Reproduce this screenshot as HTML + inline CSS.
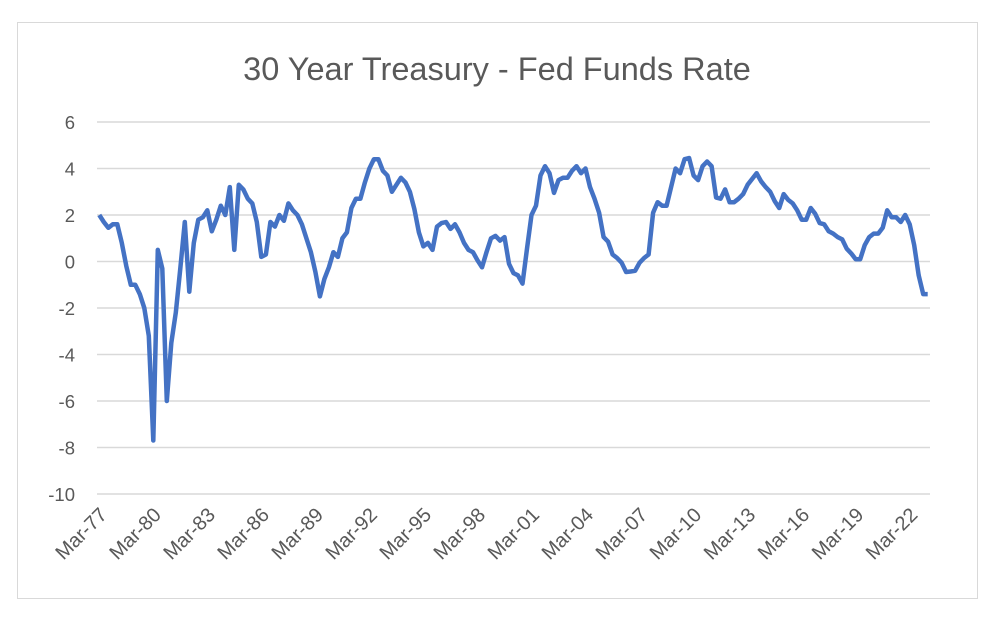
<!DOCTYPE html>
<html><head><meta charset="utf-8"><style>
body{margin:0;background:#fff;}
svg{display:block;font-family:"Liberation Sans",Calibri,sans-serif;}
</style></head><body>
<svg id="chart" width="1000" height="626">
<rect x="17.5" y="22.5" width="960" height="576" fill="#fff" stroke="#d9d9d9"/>
<text x="497" y="80" text-anchor="middle" font-size="32.5" fill="#595959">30 Year Treasury - Fed Funds Rate</text>
<g id="grid"></g><g id="ylabels"></g><g id="xlabels"></g><g id="series"></g>
</svg>
<script>
const values=[2.0,1.7,1.45,1.6,1.6,0.8,-0.2,-1.0,-1.0,-1.4,-2.0,-3.2,-7.7,0.5,-0.3,-6.0,-3.5,-2.2,-0.3,1.7,
-1.3,0.8,1.8,1.9,2.2,1.3,1.8,2.4,2.0,3.2,0.5,3.3,3.1,2.7,2.5,1.7,0.2,0.3,1.7,1.5,
2.0,1.75,2.5,2.2,2.0,1.6,1.0,0.4,-0.45,-1.5,-0.75,-0.25,0.4,0.2,1.0,1.25,2.3,2.7,2.7,3.4,
4.0,4.4,4.4,3.9,3.7,3.0,3.3,3.6,3.4,3.0,2.25,1.25,0.65,0.8,0.5,1.5,1.65,1.7,1.4,1.6,
1.25,0.8,0.5,0.4,0.05,-0.25,0.4,1.0,1.1,0.9,1.05,-0.1,-0.5,-0.6,-0.95,0.55,2.0,2.4,3.7,4.1,
3.8,2.95,3.5,3.6,3.6,3.9,4.1,3.8,4.0,3.2,2.7,2.1,1.05,0.85,0.3,0.15,-0.05,-0.45,-0.43,-0.4,
-0.05,0.15,0.3,2.1,2.55,2.4,2.4,3.2,4.0,3.8,4.4,4.45,3.7,3.5,4.1,4.3,4.1,2.75,2.7,3.1,
2.55,2.55,2.7,2.9,3.3,3.55,3.8,3.45,3.2,3.0,2.6,2.3,2.9,2.65,2.5,2.2,1.8,1.8,2.3,2.05,
1.65,1.6,1.3,1.2,1.05,0.95,0.55,0.35,0.1,0.1,0.7,1.05,1.2,1.2,1.45,2.2,1.9,1.9,1.7,2.0,
1.6,0.7,-0.6,-1.4,-1.4];
const yTicks=[6,4,2,0,-2,-4,-6,-8,-10];
const xTickLabels=["Mar-77","Mar-80","Mar-83","Mar-86","Mar-89","Mar-92","Mar-95","Mar-98","Mar-01","Mar-04","Mar-07","Mar-10","Mar-13","Mar-16","Mar-19","Mar-22"];
const NS="http://www.w3.org/2000/svg";
const x0=97,x1=930,yTop=122,yBot=494;
const step=(x1-x0)/values.length;
const xs=i=>x0+step/2+i*step;
const ys=v=>yTop+(6-v)*(yBot-yTop)/16;
const grid=document.getElementById('grid'),yl=document.getElementById('ylabels'),xl=document.getElementById('xlabels'),se=document.getElementById('series');
yTicks.forEach(t=>{
 const l=document.createElementNS(NS,'line');
 l.setAttribute('x1',x0);l.setAttribute('x2',x1);l.setAttribute('y1',ys(t));l.setAttribute('y2',ys(t));
 l.setAttribute('stroke','#d9d9d9');l.setAttribute('stroke-width','1.5');
 
 
 grid.appendChild(l);
 const tx=document.createElementNS(NS,'text');
 tx.setAttribute('x',75);tx.setAttribute('y',ys(t)+7);tx.setAttribute('text-anchor','end');
 tx.setAttribute('font-size','18.5');tx.setAttribute('fill','#595959');
 tx.textContent=t;
 
 
 yl.appendChild(tx);
});
xTickLabels.forEach((s,k)=>{
 const i=k*12;
 const px=xs(i)+9,py=516;
 const tx=document.createElementNS(NS,'text');
 tx.setAttribute('x',px);tx.setAttribute('y',py);tx.setAttribute('text-anchor','end');
 tx.setAttribute('font-size','20');tx.setAttribute('fill','#595959');
 tx.setAttribute('transform','rotate(-45 '+px+' '+py+')');
 tx.textContent=s;
 
 
 xl.appendChild(tx);
});
const p=document.createElementNS(NS,'polyline');
p.setAttribute('points',values.map((v,i)=>xs(i).toFixed(1)+','+ys(v).toFixed(1)).join(' '));
p.setAttribute('fill','none');p.setAttribute('stroke','#4472C4');p.setAttribute('stroke-width','4.5');
p.setAttribute('stroke-linejoin','round');


se.appendChild(p);
</script>
</body></html>
